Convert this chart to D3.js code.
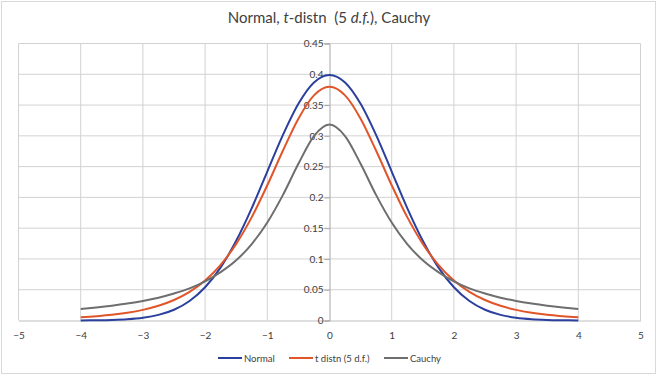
<!DOCTYPE html>
<html><head><meta charset="utf-8">
<script src="https://cdn.jsdelivr.net/npm/d3@7"></script>
<style>
html,body{margin:0;padding:0;background:#fff;}
svg{display:block;font-family:Lato, "Open Sans", sans-serif;}
</style></head>
<body><svg id="c" width="659" height="376"></svg>
<script>
const xs = [-4,-3.75,-3.5,-3.25,-3,-2.75,-2.5,-2.25,-2,-1.75,-1.5,-1.25,-1,-0.75,-0.5,-0.25,0,0.25,0.5,0.75,1,1.25,1.5,1.75,2,2.25,2.5,2.75,3,3.25,3.5,3.75,4];
const normalVals = [0.0001,0.0004,0.0009,0.0020,0.0044,0.0091,0.0175,0.0317,0.0540,0.0863,0.1295,0.1826,0.2420,0.3011,0.3521,0.3867,0.3989,0.3867,0.3521,0.3011,0.2420,0.1826,0.1295,0.0863,0.0540,0.0317,0.0175,0.0091,0.0044,0.0020,0.0009,0.0004,0.0001];
const tVals = [0.0051,0.0069,0.0092,0.0126,0.0173,0.0239,0.0333,0.0466,0.0651,0.0905,0.1245,0.1679,0.2197,0.2757,0.3279,0.3657,0.3796,0.3657,0.3279,0.2757,0.2197,0.1679,0.1245,0.0905,0.0651,0.0466,0.0333,0.0239,0.0173,0.0126,0.0092,0.0069,0.0051];
const cauchyVals = [0.0187,0.0212,0.0241,0.0276,0.0318,0.0371,0.0439,0.0522,0.0637,0.0787,0.0979,0.1242,0.1592,0.2037,0.2546,0.2996,0.3183,0.2996,0.2546,0.2037,0.1592,0.1242,0.0979,0.0787,0.0637,0.0522,0.0439,0.0371,0.0318,0.0276,0.0241,0.0212,0.0187];
const seriesNames = ["Normal","t distn (5 d.f.)","Cauchy"];
const xTicks = [-5,-4,-3,-2,-1,0,1,2,3,4,5];
const yTicks = [0,0.05,0.1,0.15,0.2,0.25,0.3,0.35,0.4,0.45];

const colors = ["#2b3f9e","#e0552a","#6e6e6e"];
const svg = d3.select("#c");
svg.append("rect").attr("x",1.5).attr("y",1.5).attr("width",654).attr("height",372)
  .attr("fill","#fff").attr("stroke","#d9d9d9");

const x = d3.scaleLinear().domain([-5,5]).range([18.5,640.5]);
const y = d3.scaleLinear().domain([0,0.45]).range([320.5,43.5]);

// gridlines
svg.append("g").selectAll("line").data(yTicks.slice(1)).join("line")
  .attr("x1",x(-5)).attr("x2",x(5)).attr("y1",d=>y(d)).attr("y2",d=>y(d))
  .attr("stroke","#d2d2d2").attr("stroke-width",1);
svg.append("g").selectAll("line").data(xTicks.filter(d=>d!==0)).join("line")
  .attr("x1",d=>x(d)).attr("x2",d=>x(d)).attr("y1",y(0)).attr("y2",y(0.45))
  .attr("stroke","#d2d2d2").attr("stroke-width",1);

// x axis
const xa = svg.append("g").attr("transform",`translate(0,${y(0)})`)
  .call(d3.axisBottom(x).tickValues(xTicks).tickSize(0).tickPadding(11).tickFormat(d3.format("d")));
xa.select(".domain").attr("stroke","#bfbfbf");
xa.selectAll("text").attr("fill","#404040").style("font-size","10px").style("font-family","Lato, sans-serif");

// y axis
const ya = svg.append("g").attr("transform",`translate(${x(0)},0)`)
  .call(d3.axisLeft(y).tickValues(yTicks).tickSize(5).tickPadding(1).tickFormat(d=>d3.format("")(+d.toFixed(2))));
ya.select(".domain").attr("stroke","#a6a6a6");
ya.selectAll(".tick line").attr("stroke","#a6a6a6");
ya.selectAll("text").attr("fill","#404040").style("font-size","10px").style("font-family","Lato, sans-serif");

// curves
const allSeries = [normalVals,tVals,cauchyVals];
const line = d3.line().x((d,i)=>x(xs[i])).y(d=>y(d)).curve(d3.curveMonotoneX);
allSeries.forEach((vals,k)=>{
  svg.append("path").datum(vals).attr("d",line).attr("fill","none")
    .attr("stroke",colors[k]).attr("stroke-width",2);
});

// title
const t = svg.append("text").attr("x",329).attr("y",23).attr("text-anchor","middle")
  .attr("fill","#404040").style("font-size","15px");
t.append("tspan").text("Normal, ");
t.append("tspan").attr("font-style","italic").text("t");
t.append("tspan").text("-distn\u00a0 (5 ");
t.append("tspan").attr("font-style","italic").text("d.f.");
t.append("tspan").text("), Cauchy");

// legend
const legX = [218,289,384];
seriesNames.forEach((n,k)=>{
  const g = svg.append("g").attr("transform",`translate(${legX[k]},358)`);
  g.append("line").attr("x1",0).attr("x2",24).attr("y1",0).attr("y2",0)
    .attr("stroke",colors[k]).attr("stroke-width",2);
  g.append("text").attr("x",26).attr("y",3.5).attr("fill","#404040")
    .style("font-size","9.5px").text(n);
});
</script></body></html>
